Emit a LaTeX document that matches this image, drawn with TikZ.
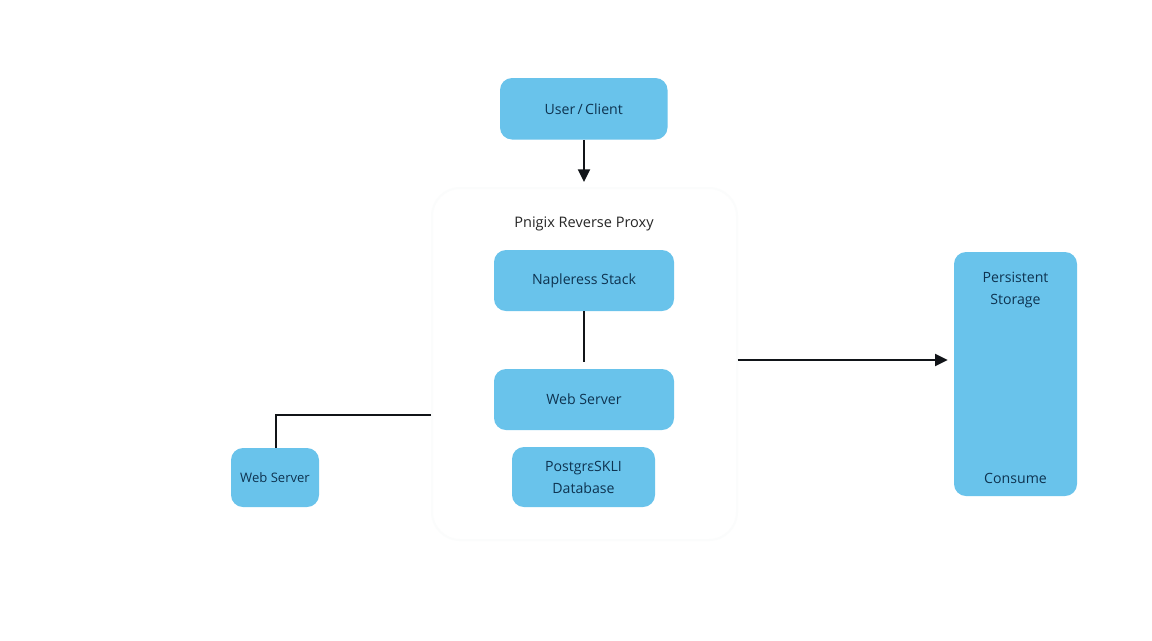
\documentclass[tikz,border=0pt]{standalone}
\usepackage{fontspec}
\setmainfont{Open Sans}
\usetikzlibrary{arrows.meta,calc}
\definecolor{boxblue}{HTML}{69C3EB}
\definecolor{boxtext}{HTML}{0E3350}
\definecolor{lineink}{HTML}{111418}
\definecolor{faintedge}{HTML}{FBFCFC}
\tikzset{
  bluebox/.style={fill=boxblue,draw=none,rounded corners=9pt,align=center,text=boxtext,
    font=\fontsize{10.6pt}{16.5pt}\selectfont,inner sep=0pt},
  link/.style={draw=lineink,line width=1.5pt},
  tip/.style={-{Triangle[length=9.5pt,width=9pt]}},
  panel/.style={draw=faintedge,line width=1.5pt,fill=white,rounded corners=21pt},
  caption/.style={text=boxtext,align=center,inner sep=0pt,font=\fontsize{10.6pt}{16.5pt}\selectfont}
}
\begin{document}
\begin{tikzpicture}[x=0.75pt,y=-0.75pt]
\useasboundingbox (0,0) rectangle (1152,640);
\fill[white] (0,0) rectangle (1152,640);
\node[panel,minimum width=305*0.75pt,minimum height=352*0.75pt] (panel) at (584.5,364) {};
\node[bluebox,minimum width=167.5*0.75pt,minimum height=61.5*0.75pt] (user) at (583.75,108.75) {User\,/\,Client};
\node[text=black!85,inner sep=0pt,font=\fontsize{10.9pt}{14pt}\selectfont] (proxy) at (584,223.5) {Pnigix Reverse Proxy};
\node[bluebox,minimum width=180*0.75pt,minimum height=61*0.75pt] (stack) at (584,280.5) {\raisebox{-0.75pt}{Napleress Stack}};
\node[bluebox,minimum width=180*0.75pt,minimum height=61*0.75pt] (web) at (584,399.5) {\raisebox{0.75pt}{Web Server}};
\node[bluebox,minimum width=143*0.75pt,minimum height=60*0.75pt] (db) at (583.5,477) {PostgrεSKLI\\Database};
\node[bluebox,font=\fontsize{9.8pt}{14pt}\selectfont,minimum width=88*0.75pt,minimum height=59*0.75pt] (edge) at (275,477.5) {\raisebox{-0.75pt}{Web Server}};
\node[bluebox,minimum width=123*0.75pt,minimum height=244*0.75pt] (store) at (1015.5,374) {};
\node[caption] (storelabel) at (1015.5,290.5) {Persistent\\Storage};
\node[caption] (consume) at (1015.5,478) {Consume};
\coordinate (panelleft) at (431,414.5);
\coordinate (panelright) at (737.5,360);
\coordinate (bend) at (276,414.5);
\coordinate (proxytop) at (584,182);
\draw[link,tip] (user.south -| proxytop) -- (proxytop);
\draw[link,shorten >=7*0.75pt] (stack.south) -- (web.north);
\draw[link] (panelleft) -- (bend) -- (bend |- edge.north);
\draw[link,tip,shorten >=6*0.75pt] (panelright) -- (panelright -| store.west);
\end{tikzpicture}
\end{document}
